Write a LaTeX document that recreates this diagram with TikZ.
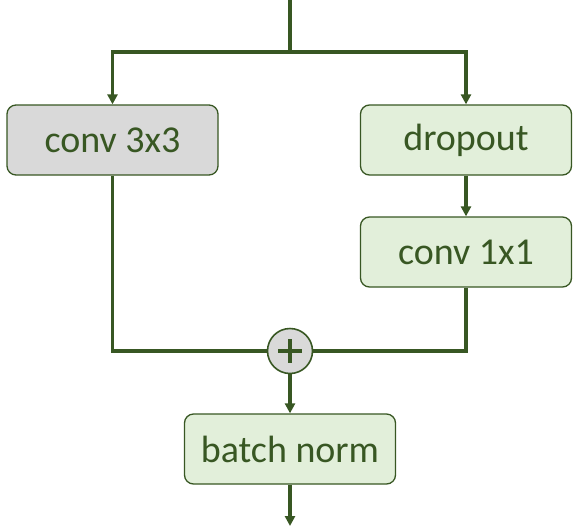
\documentclass[tikz,border=0pt]{standalone}
\usepackage{fontspec}
\setmainfont{Carlito}
\usetikzlibrary{arrows.meta,positioning,calc}
\definecolor{bgreen}{RGB}{56,87,35}
\definecolor{bfill}{RGB}{226,239,218}
\definecolor{bgray}{RGB}{217,217,217}

\begin{document}
\begin{tikzpicture}[x=1pt,y=-1pt,>={Triangle[length=10pt,width=10pt]},
  line width=3.2pt,
  blk/.style={draw=bgreen,line width=1.3pt,rounded corners=9pt,fill=bfill,
              minimum width=211pt,minimum height=70pt,text=bgreen,
              font=\fontsize{38}{44}\selectfont},
  flow/.style={->,draw=bgreen}]
  \useasboundingbox (0,0) rectangle (581,531);
  \coordinate (In) at (290,0);
  \coordinate (Split) at (290,52);
  \coordinate (Out) at (290,526);
  % two branches
  \node[blk,fill=bgray] (Conv3) at (112.5,140) {conv 3x3};
  \node[blk] (Drop) at (466,140) {dropout};
  \node[blk] (Conv1) at (466,252) {conv 1x1};
  % merge
  \node[circle,draw=bgreen,line width=1.6pt,fill=bgray,minimum size=45pt,inner sep=0pt] (Add) at (290,351) {};
  \draw[bgreen,line width=4pt] ($(Add)+(-12,0)$) -- ($(Add)+(12,0)$)
                              ($(Add)+(0,-12)$) -- ($(Add)+(0,12)$);
  \node[blk] (BN) at (290,449) {batch norm};
  % connectors
  \draw[bgreen] (In) -- (Split);
  \draw[flow] (Split) -| (Conv3.north);
  \draw[flow] (Split) -| (Drop.north);
  \draw[flow] (Drop) -- (Conv1);
  \draw[bgreen] (Conv3.south) |- (Add.west);
  \draw[bgreen] (Conv1.south) |- (Add.east);
  \draw[flow] (Add) -- (BN);
  \draw[flow] (BN) -- (Out);
\end{tikzpicture}
\end{document}
